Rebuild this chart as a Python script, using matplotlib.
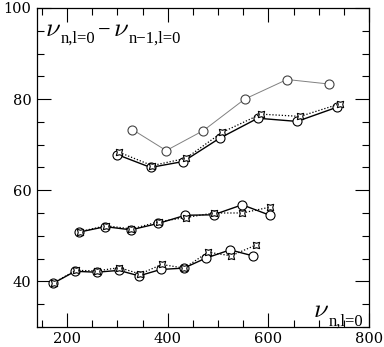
import matplotlib
matplotlib.use("Agg")
import matplotlib.pyplot as plt
from matplotlib.ticker import MultipleLocator

plt.rcParams['font.family'] = ['DejaVu Serif']
plt.rcParams['mathtext.fontset'] = 'cm'

# Lower group
low_x_c = [173, 216, 259, 303, 343, 386, 432, 476, 524, 569]
low_y_c = [39.6, 42.2, 42.0, 42.4, 41.2, 42.6, 42.9, 45.1, 46.9, 45.6]
low_x_s = [174, 217, 260, 304, 345, 388, 433, 480, 526, 576]
low_y_s = [39.7, 42.4, 42.3, 43.0, 41.6, 43.7, 42.9, 46.4, 45.6, 48.0]

# Middle group
mid_x_c = [224, 276, 327, 381, 435, 491, 548, 603]
mid_y_c = [50.8, 52.0, 51.3, 52.7, 54.5, 54.6, 56.8, 54.5]
mid_x_s = [225, 277, 328, 383, 436, 492, 548, 604]
mid_y_s = [50.9, 52.2, 51.5, 53.1, 54.0, 55.0, 55.0, 56.3]

# Upper group
up_x_c = [300, 366, 431, 503, 579, 657, 736]
up_y_c = [67.8, 65.0, 66.3, 71.4, 75.8, 75.1, 78.2]
up_x_s = [304, 369, 436, 508, 585, 663, 743]
up_y_s = [68.3, 65.4, 67.0, 72.7, 76.7, 76.2, 79.0]
up_x_g = [330, 397, 471, 553, 637, 721]
up_y_g = [73.3, 68.7, 73.1, 80.0, 84.3, 83.3]

fig = plt.figure(figsize=(3.84, 3.47), dpi=100)
ax = fig.add_axes([0.096, 0.058, 0.865, 0.919])

ckw = dict(marker='o', markersize=6.5, markerfacecolor='white', markeredgecolor='black',
           markeredgewidth=0.8, color='black', linewidth=1.0, linestyle='-')
skw = dict(marker=(4, 1, 45), markersize=6.5, markerfacecolor='white', markeredgecolor='black',
           markeredgewidth=0.8, color='black', linewidth=0.9, linestyle=(0, (1, 1.5)))

for xc, yc, xs, ys in [(low_x_c, low_y_c, low_x_s, low_y_s),
                       (mid_x_c, mid_y_c, mid_x_s, mid_y_s),
                       (up_x_c, up_y_c, up_x_s, up_y_s)]:
    ax.plot(xc, yc, **ckw)
    ax.plot(xs, ys, **skw)

ax.plot(up_x_g, up_y_g, marker='o', markersize=6.5, markerfacecolor='white',
        markeredgecolor='#444444', markeredgewidth=0.8, color='#808080', linewidth=0.7)

ax.set_xlim(140, 800)
ax.set_ylim(30, 100)
ax.xaxis.set_major_locator(MultipleLocator(200))
ax.xaxis.set_minor_locator(MultipleLocator(50))
ax.yaxis.set_major_locator(MultipleLocator(20))
ax.yaxis.set_minor_locator(MultipleLocator(5))
ax.tick_params(which='both', direction='in', top=True, right=True, labelsize=10.5, width=0.8)
ax.tick_params(which='major', length=10, pad=4)
ax.tick_params(which='minor', length=5)
for s in ax.spines.values():
    s.set_linewidth(0.9)

def put(x, y, s, size, family=None):
    kw = {} if family is None else dict(family=family)
    fig.text(x / 384, y / 347, s, fontsize=size, ha='left', va='baseline', **kw)

# top-left label: nu_{n,l=0} - nu_{n-1,l=0}
put(45, 311, r'$\nu$', 19)
put(61, 304, 'n,l=0', 12, 'Liberation Serif')
put(98, 311, '\u2212', 16, 'Liberation Serif')
put(113, 311, r'$\nu$', 19)
put(129, 304, 'n\u22121,l=0', 12, 'Liberation Serif')

# bottom-right label: nu_{n,l=0}
put(313, 30, r'$\nu$', 19)
put(329, 21, 'n,l=0', 12, 'Liberation Serif')

fig.savefig('out.png', dpi=100)
